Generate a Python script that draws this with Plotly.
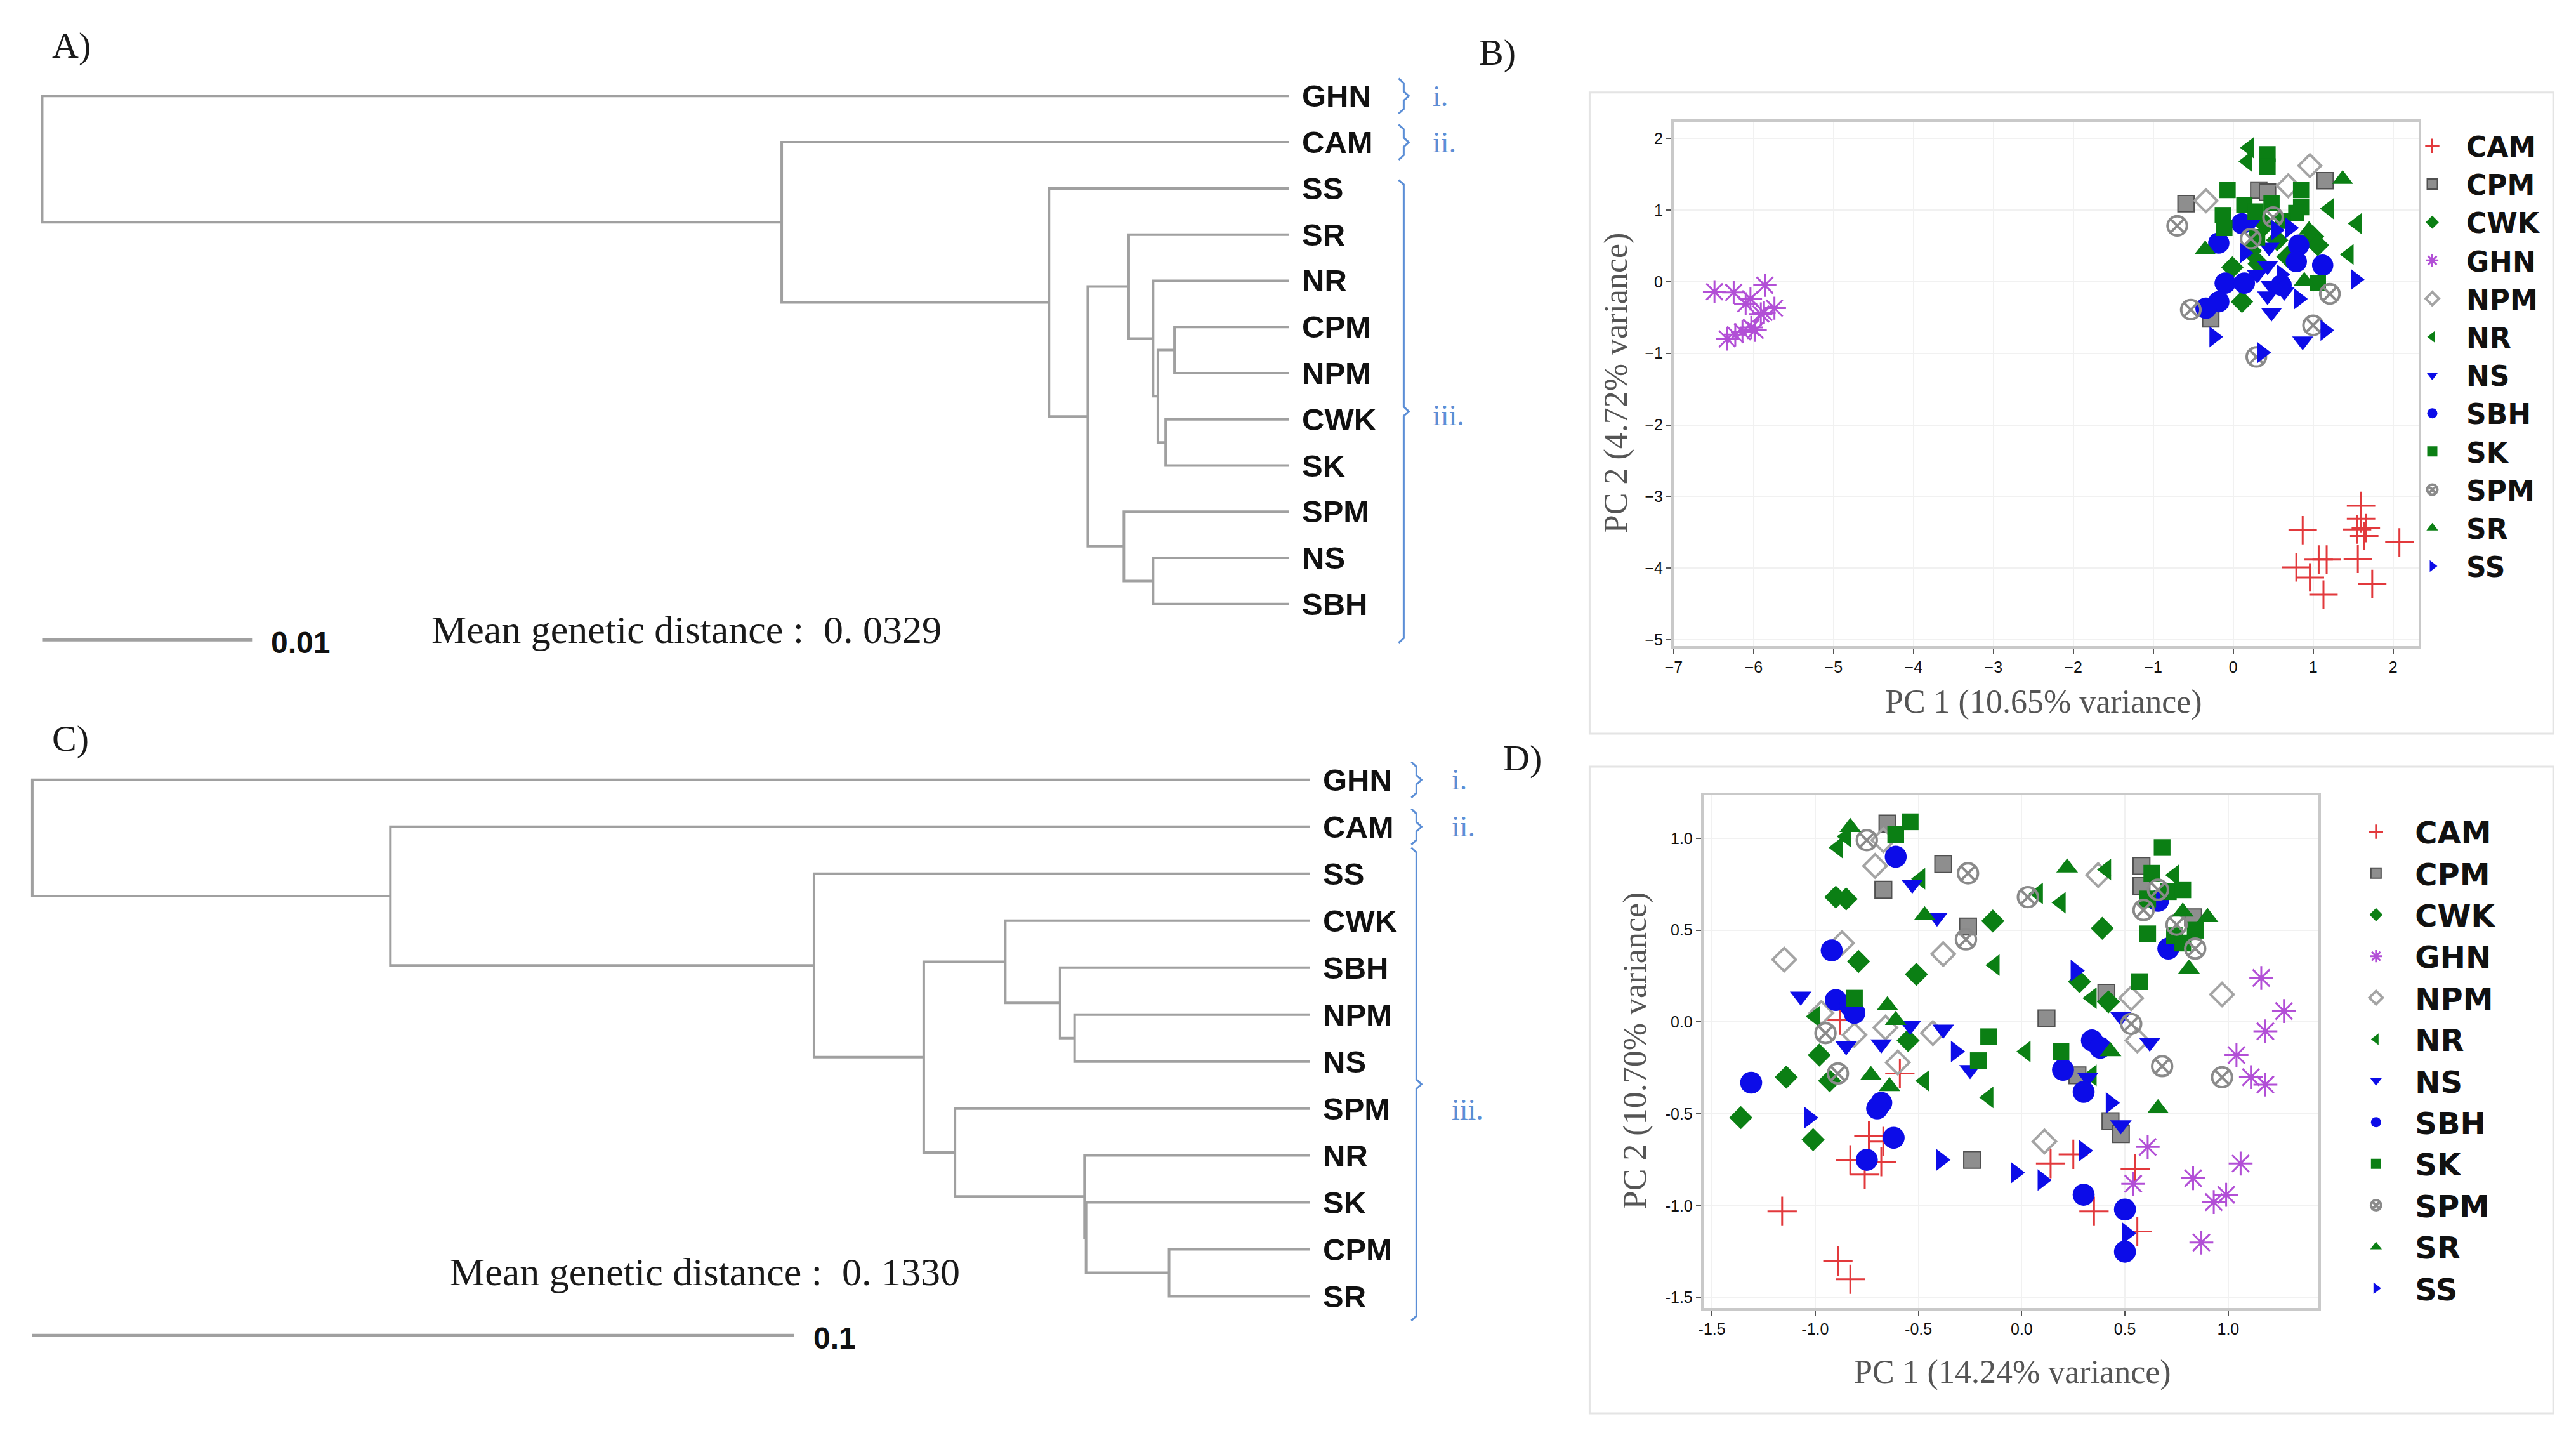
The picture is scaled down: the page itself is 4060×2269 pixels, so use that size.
import plotly.graph_objects as go

W, H = 4060, 2269
OFFX, OFFY = 20, 8   # observed page offset of the plot div (pixels)

# ---------------- Dendrogram A (UPGMA, distances from root) ----------------
A_leaves = ["GHN", "CAM", "SS", "SR", "NR", "CPM", "NPM", "CWK", "SK", "SPM", "NS", "SBH"]
A_tip = 0.0594
A_nodes = [  # (node, child 1, child 2, distance of node from root)
    ("a1", "CPM", "NPM", 0.05394),
    ("a2", "CWK", "SK", 0.05352),
    ("a3", "a1", "a2", 0.05315),
    ("a4", "NR", "a3", 0.05292),
    ("a5", "SR", "a4", 0.05176),
    ("a6", "NS", "SBH", 0.05292),
    ("a7", "SPM", "a6", 0.05153),
    ("a8", "a5", "a7", 0.04981),
    ("a9", "SS", "a8", 0.04796),
    ("a10", "CAM", "a9", 0.03523),
    ("a11", "GHN", "a10", 0.0),
]
A_scale = 0.01
A_mean = "Mean genetic distance :  0. 0329"

# ---------------- Dendrogram C ----------------
C_leaves = ["GHN", "CAM", "SS", "CWK", "SBH", "NPM", "NS", "SPM", "NR", "SK", "CPM", "SR"]
C_tip = 0.1677
C_nodes = [
    ("c1", "NPM", "NS", 0.1368),
    ("c2", "SBH", "c1", 0.1349),
    ("c3", "CWK", "c2", 0.1277),
    ("c4", "CPM", "SR", 0.1492),
    ("c5", "SK", "c4", 0.1383),
    ("c6", "NR", "c5", 0.1381),
    ("c7", "SPM", "c6", 0.1211),
    ("c8", "c3", "c7", 0.1170),
    ("c9", "SS", "c8", 0.1026),
    ("c10", "CAM", "c9", 0.0470),
    ("c11", "GHN", "c10", 0.0),
]
C_scale = 0.1
C_mean = "Mean genetic distance :  0. 1330"

clusters = ["i.", "ii.", "iii."]

# ---------------- PCA B (PC1 10.65 %, PC2 4.72 %) ----------------
groups = ["CAM", "CPM", "CWK", "GHN", "NPM", "NR", "NS", "SBH", "SK", "SPM", "SR", "SS"]
B_CAM = [(0.87, -3.47), (1.07, -3.88), (1.17, -3.88), (0.79, -3.99), (0.96, -4.13), (1.13, -4.37),
         (1.60, -3.13), (1.60, -3.31), (1.66, -3.44), (1.55, -3.46), (1.64, -3.55), (2.08, -3.64),
         (1.56, -3.87), (1.74, -4.22)]
B_CPM = [(-0.59, 1.09), (0.32, 1.28), (0.43, 1.25), (1.15, 1.41), (-0.28, -0.52)]
B_CWK = [(-0.01, 0.20), (0.11, -0.28), (0.22, 0.43), (0.32, 0.25), (1.00, 0.63), (1.06, 0.51),
         (0.55, 0.58), (0.40, 0.80), (0.68, 0.35)]
B_GHN = [(-6.49, -0.14), (-6.25, -0.15), (-5.86, -0.05), (-6.04, -0.24), (-6.10, -0.31), (-5.74, -0.37),
         (-5.91, -0.45), (-6.03, -0.64), (-6.14, -0.70), (-6.33, -0.80), (-6.23, -0.74), (-5.98, -0.68),
         (-5.87, -0.43)]
B_NPM = [(0.96, 1.62), (0.69, 1.34), (-0.34, 1.13)]
B_NR = [(0.20, 1.87), (0.18, 1.68), (1.20, 1.02), (1.55, 0.81), (1.45, 0.38)]
B_NS = [(0.24, 0.84), (0.45, 0.48), (0.43, 0.22), (0.43, -0.20), (0.48, -0.43), (0.64, -0.14),
        (0.87, -0.83), (0.30, 0.10), (0.47, -0.05)]
B_SBH = [(-0.18, 0.54), (0.11, 0.81), (0.82, 0.51), (0.79, 0.28), (1.12, 0.23), (-0.10, -0.02),
         (0.14, -0.02), (-0.18, -0.28), (-0.34, -0.37), (0.60, -0.05)]
B_SK = [(0.43, 1.78), (0.43, 1.61), (-0.07, 1.28), (0.85, 1.28), (0.14, 1.07), (0.48, 1.10),
        (0.85, 1.04), (0.79, 0.96), (-0.13, 0.93), (-0.11, 0.75), (1.06, -0.02), (0.28, 0.98),
        (0.62, 0.85), (0.30, 0.62)]
B_SPM = [(-0.70, 0.78), (1.21, -0.17), (-0.53, -0.39), (1.00, -0.61), (0.29, -1.05), (0.22, 0.60),
         (0.50, 0.90)]
B_SR = [(1.37, 1.43), (-0.35, 0.45), (0.95, 0.72), (0.89, 0.01)]
B_SS = [(0.53, 0.72), (0.71, 0.75), (1.53, 0.03), (0.14, 0.40), (0.82, -0.24), (-0.24, -0.77),
        (1.15, -0.68), (0.36, -0.99), (0.60, 0.10)]
B_xticks = [-7, -6, -5, -4, -3, -2, -1, 0, 1, 2]
B_yticks = [-5, -4, -3, -2, -1, 0, 1, 2]
B_xtitle = "PC 1 (10.65% variance)"
B_ytitle = "PC 2 (4.72% variance)"

# ---------------- PCA D (PC1 14.24 %, PC2 10.70 %) ----------------
D_CAM = [(-0.88, 0.01), (-0.59, -0.28), (-0.74, -0.62), (-0.67, -0.65), (-0.83, -0.75), (-0.68, -0.76),
         (-0.76, -0.83), (-1.16, -1.03), (-0.89, -1.30), (-0.83, -1.40), (0.14, -0.77), (0.25, -0.72),
         (0.55, -0.80), (0.35, -1.03), (0.56, -1.14)]
D_CPM = [(-0.65, 1.08), (-0.38, 0.86), (-0.67, 0.72), (-0.26, 0.52), (0.58, 0.85), (0.58, 0.74),
         (0.83, 0.57), (0.41, 0.16), (0.12, 0.02), (0.27, -0.29), (0.43, -0.54), (0.48, -0.61),
         (-0.24, -0.75)]
D_CWK = [(-0.90, 0.68), (-0.85, 0.67), (-0.14, 0.55), (-0.79, 0.33), (-0.51, 0.26), (-0.55, -0.10),
         (-0.98, -0.18), (-1.14, -0.30), (-0.93, -0.32), (-1.36, -0.52), (-1.01, -0.64), (0.39, 0.51),
         (0.28, 0.22), (0.42, 0.11)]
D_GHN = [(1.16, 0.24), (1.27, 0.06), (1.18, -0.05), (1.04, -0.18), (1.11, -0.30), (1.18, -0.34),
         (0.61, -0.68), (0.54, -0.88), (0.83, -0.85), (1.06, -0.77), (0.93, -0.98), (0.99, -0.94),
         (0.87, -1.20)]
D_NPM = [(-0.67, 0.99), (-0.71, 0.85), (-0.38, 0.37), (-0.87, 0.43), (-1.15, 0.34), (-0.97, 0.05),
         (-0.66, -0.03), (-0.43, -0.06), (-0.81, -0.07), (-0.60, -0.22), (0.37, 0.80), (0.53, 0.13),
         (0.97, 0.15), (0.56, -0.10), (0.11, -0.65)]
D_NR = [(-0.85, 1.01), (-0.89, 0.95), (-0.49, 0.78), (-0.13, 0.31), (-1.00, 0.03), (-0.47, -0.32),
        (-0.16, -0.41), (0.41, 0.83), (0.74, 0.80), (0.08, 0.70), (0.19, 0.65), (0.34, 0.13),
        (0.02, -0.16), (0.34, -0.29)]
D_NS = [(-0.53, 0.75), (-0.41, 0.57), (-1.07, 0.14), (-0.54, -0.02), (-0.38, -0.04), (-0.85, -0.13),
        (-0.68, -0.12), (-0.25, -0.26), (0.48, 0.03), (0.62, -0.11), (0.32, -0.30), (0.48, -0.56)]
D_SBH = [(-0.61, 0.90), (-0.92, 0.39), (-0.90, 0.12), (-0.83, 0.09), (-0.81, 0.05), (-1.31, -0.33),
         (-0.68, -0.44), (-0.70, -0.47), (-0.62, -0.63), (-0.75, -0.75), (0.66, 0.66), (0.71, 0.40),
         (0.34, -0.10), (0.38, -0.14), (0.20, -0.26), (0.30, -0.38), (0.30, -0.94), (0.50, -1.02),
         (0.50, -1.25)]
D_SK = [(-0.61, 1.02), (-0.54, 1.09), (-0.81, 0.13), (-0.16, -0.08), (-0.21, -0.21), (0.68, 0.95),
        (0.63, 0.81), (0.71, 0.71), (0.78, 0.72), (0.61, 0.67), (0.84, 0.50), (0.61, 0.48),
        (0.74, 0.47), (0.78, 0.43), (0.57, 0.22), (0.19, -0.16)]
D_SPM = [(-0.75, 0.99), (-0.26, 0.81), (-0.27, 0.45), (-0.95, -0.06), (-0.89, -0.28), (0.66, 0.72),
         (0.59, 0.61), (0.03, 0.68), (0.75, 0.53), (0.84, 0.40), (0.53, -0.01), (0.68, -0.24),
         (0.97, -0.30)]
D_SR = [(-0.83, 1.06), (-0.47, 0.58), (-0.65, 0.09), (-0.61, 0.01), (-0.73, -0.29), (-0.64, -0.35),
        (0.22, 0.84), (0.78, 0.60), (0.90, 0.57), (0.81, 0.29), (0.43, -0.16), (0.66, -0.47)]
D_SS = [(-0.32, -0.16), (-1.03, -0.52), (-0.39, -0.75), (-0.03, -0.82), (0.26, 0.28), (0.43, -0.44),
        (0.30, -0.70), (0.10, -0.86), (0.51, -1.15)]
D_xticks = [-1.5, -1.0, -0.5, 0.0, 0.5, 1.0]
D_yticks = [-1.5, -1.0, -0.5, 0.0, 0.5, 1.0]
D_xtitle = "PC 1 (14.24% variance)"
D_ytitle = "PC 2 (10.70% variance)"

B_data = [B_CAM, B_CPM, B_CWK, B_GHN, B_NPM, B_NR, B_NS, B_SBH, B_SK, B_SPM, B_SR, B_SS]
D_data = [D_CAM, D_CPM, D_CWK, D_GHN, D_NPM, D_NR, D_NS, D_SBH, D_SK, D_SPM, D_SR, D_SS]

# ---------------- styles ----------------
RED, GREEN, PURPLE, BLUE = "#e2393c", "#0b7f14", "#b24fd6", "#0c0ce8"
style = {
    "CAM": dict(symbol="cross-thin", color=RED, line=dict(color=RED, width=3), k=1.0),
    "CPM": dict(symbol="square", color="#8e8e8e", line=dict(color="#505050", width=2), k=0.8),
    "CWK": dict(symbol="diamond", color=GREEN, line=dict(width=0), k=0.85),
    "GHN": dict(symbol="asterisk-open", color=PURPLE, line=dict(color=PURPLE, width=3), k=0.95),
    "NPM": dict(symbol="diamond-open", color="#a4a4a4", line=dict(color="#a4a4a4", width=4), k=0.85),
    "NR": dict(symbol="triangle-left", color=GREEN, line=dict(width=0), k=0.9),
    "NS": dict(symbol="triangle-down", color=BLUE, line=dict(width=0), k=0.9),
    "SBH": dict(symbol="circle", color=BLUE, line=dict(width=0), k=1.05),
    "SK": dict(symbol="square", color=GREEN, line=dict(width=0), k=0.8),
    "SPM": dict(symbol="circle-x-open", color="#8a8a8a", line=dict(color="#8a8a8a", width=4), k=0.95),
    "SR": dict(symbol="triangle-up", color=GREEN, line=dict(width=0), k=0.9),
    "SS": dict(symbol="triangle-right", color=BLUE, line=dict(width=0), k=0.9),
}

TREE_COL = "#a0a0a0"
BR_COL = "#5b8ed6"
SERIF = "Liberation Serif"
SANS = "Liberation Sans"
LEG_FONT = "DejaVu Sans"

fig = go.Figure()


def tree_paths(leaves, nodes, tip):
    ypos = {n: i for i, n in enumerate(leaves)}
    xpos = {n: tip for n in leaves}
    xs, ys = [], []
    for name, a, b, h in nodes:
        ypos[name] = (ypos[a] + ypos[b]) / 2
        xpos[name] = h
        xs += [xpos[a], h, h, xpos[b], None]
        ys += [ypos[a], ypos[a], ypos[b], ypos[b], None]
    return xs, ys


def brace(x, y0, y1, dx, dy):
    ym = (y0 + y1) / 2
    return ([x - dx, x, x, x + dx, x, x, x - dx],
            [y0, y0 + dy, ym - dy, ym, ym + dy, y1 - dy, y1])


annotations = []


def add_tree(leaves, nodes, tip, scale, mean_text, xa, ya, px_unit, scale_y, scale_lab_x,
             mean_x, mean_y, br_x, br_lab_x, iii_span, iii_lab_y):
    xs, ys = tree_paths(leaves, nodes, tip)
    fig.add_trace(go.Scatter(x=xs, y=ys, mode="lines", xaxis=xa, yaxis=ya, showlegend=False,
                             line=dict(color=TREE_COL, width=4), hoverinfo="skip"))
    for i, lab in enumerate(leaves):
        annotations.append(dict(x=tip, y=i, xref=xa, yref=ya, text=lab, showarrow=False,
                                xanchor="left", yanchor="middle", xshift=18,
                                font=dict(family=SANS, size=49, color="#111111", weight="bold")))
    # scale bar
    fig.add_trace(go.Scatter(x=[0, scale], y=[scale_y, scale_y], mode="lines", xaxis=xa, yaxis=ya,
                             showlegend=False, line=dict(color=TREE_COL, width=5), hoverinfo="skip"))
    annotations.append(dict(x=scale_lab_x, y=scale_y, xref=xa, yref=ya, text=str(scale), showarrow=False,
                            xanchor="center", yanchor="middle", yshift=-4,
                            font=dict(family=SANS, size=48, color="#111111", weight="bold")))
    annotations.append(dict(x=mean_x, y=mean_y, xref=xa, yref=ya, text=mean_text, showarrow=False,
                            xanchor="center", yanchor="middle",
                            font=dict(family=SERIF, size=62, color="#1a1a1a")))
    # cluster braces
    dx = 8.0 / px_unit
    spans = [(-0.38, 0.38), (0.62, 1.38), iii_span]
    lab_y = [0, 1, iii_lab_y]
    for (y0, y1), lab, ly in zip(spans, clusters, lab_y):
        bx, by = brace(br_x, y0, y1, dx, 0.1)
        fig.add_trace(go.Scatter(x=bx, y=by, mode="lines", xaxis=xa, yaxis=ya, showlegend=False,
                                 line=dict(color=BR_COL, width=3), hoverinfo="skip"))
        annotations.append(dict(x=br_lab_x, y=ly, xref=xa, yref=ya, text=lab, showarrow=False,
                                xanchor="left", yanchor="middle",
                                font=dict(family=SERIF, size=46, color=BR_COL)))


# Tree A: root at px 64.6, 332 px per 0.01 ; leaves at y = 151.6 + 72.9*i
add_tree(A_leaves, A_nodes, A_tip, A_scale, A_mean, "x", "y", 33200, 11.775, 0.0123,
         0.0307, 11.556, 0.06486, 0.06619, (1.816, 11.84), 6.92)
# Tree C: root at px 49, 1205 px per 0.1 ; leaves at y = 1231 + 74.1*i
add_tree(C_leaves, C_nodes, C_tip, C_scale, C_mean, "x3", "y3", 12050, 11.835, 0.1053,
         0.0883, 10.486, 0.18166, 0.18614, (1.444, 11.52), 7.03)

# PCA scatters
for g, pts in zip(groups, B_data):
    st = style[g]
    fig.add_trace(go.Scatter(
        x=[p[0] for p in pts], y=[p[1] for p in pts], mode="markers", name=g,
        xaxis="x2", yaxis="y2", legend="legend",
        marker=dict(symbol=st["symbol"], color=st["color"], size=32 * st["k"], line=st["line"])))
for g, pts in zip(groups, D_data):
    st = style[g]
    fig.add_trace(go.Scatter(
        x=[p[0] for p in pts], y=[p[1] for p in pts], mode="markers", name=g,
        xaxis="x4", yaxis="y4", legend="legend2",
        marker=dict(symbol=st["symbol"], color=st["color"], size=33 * st["k"], line=st["line"])))


def px(v):
    return (v - OFFX) / W


def py(v):
    return 1 - (v - OFFY) / H


hidden = dict(visible=False, showgrid=False, zeroline=False, fixedrange=True)
pca_axis = dict(showgrid=True, gridcolor="#f1f1f1", gridwidth=2, zeroline=False, showline=True,
                linecolor="#c9c9c9", linewidth=4, mirror=True, ticks="outside", ticklen=8,
                tickwidth=2, tickcolor="#555555", tickfont=dict(family=SANS, size=25, color="#111111"))

A_root_px, A_unit = 64.6 - OFFX, 33200
C_root_px, C_unit = 49 - OFFX, 12050
TREE_W = 0.58 * W

fig.update_layout(
    width=W, height=H, margin=dict(l=0, r=0, t=0, b=0),
    paper_bgcolor="white", plot_bgcolor="white",
    xaxis=dict(domain=[0, 0.58], range=[-A_root_px / A_unit, (TREE_W - A_root_px) / A_unit], **hidden),
    yaxis=dict(domain=[py(1100), 1.0], range=[(1100 - 151.6) / 72.9, -(151.6 - OFFY) / 72.9], **hidden),
    xaxis3=dict(domain=[0, 0.58], range=[-C_root_px / C_unit, (TREE_W - C_root_px) / C_unit],
                anchor="y3", **hidden),
    yaxis3=dict(domain=[0, py(1130)], range=[(H + OFFY - 1231) / 74.1, (1130 - 1231) / 74.1],
                anchor="x3", **hidden),
    xaxis2=dict(domain=[px(2645), px(3823)], range=[-7, 2.32], anchor="y2",
                tickvals=B_xticks, **pca_axis),
    yaxis2=dict(domain=[py(1020), py(192)], range=[-5.09, 2.235], anchor="x2",
                tickvals=B_yticks, **pca_axis),
    xaxis4=dict(domain=[px(2692), px(3665)], range=[-1.541, 1.438], anchor="y4",
                tickvals=D_xticks, ticktext=[f"{v:.1f}" for v in D_xticks], **pca_axis),
    yaxis4=dict(domain=[py(2065), py(1255)], range=[-1.5576, 1.2355], anchor="x4",
                tickvals=D_yticks, ticktext=[f"{v:.1f}" for v in D_yticks], **pca_axis),
    legend=dict(x=px(3791), y=py(195), xanchor="left", yanchor="top", bgcolor="rgba(0,0,0,0)",
                font=dict(family=LEG_FONT, size=44, color="#111111", weight="bold"),
                tracegroupgap=0, itemwidth=97),
    legend2=dict(x=px(3694), y=py(1275), xanchor="left", yanchor="top", bgcolor="rgba(0,0,0,0)",
                 font=dict(family=LEG_FONT, size=48, color="#111111", weight="bold"),
                 tracegroupgap=0, itemwidth=113),
    showlegend=True,
)

# panel frames
for y0, y1 in [(146, 1158), (1210, 2231)]:
    fig.add_shape(type="rect", xref="paper", yref="paper", x0=px(2512), x1=px(4036),
                  y0=py(y1), y1=py(y0), line=dict(color="#e4e4e4", width=3), layer="below")

# axis titles
titles = [(B_xtitle, 3230, 1108, 0), (B_ytitle, 2554, 604, -90),
          (D_xtitle, 3181, 2166, 0), (D_ytitle, 2584, 1658, -90)]
for t, x, y, ang in titles:
    annotations.append(dict(x=px(x), y=py(y), xref="paper", yref="paper", text=t, showarrow=False,
                            textangle=ang, xanchor="center", yanchor="middle",
                            font=dict(family=SERIF, size=52, color="#555555")))

# panel letters (left edges)
for t, x, y in [("A)", 78, 72), ("B)", 2335, 83), ("C)", 78, 1166), ("D)", 2373, 1197)]:
    annotations.append(dict(x=px(x), y=py(y), xref="paper", yref="paper", text=t, showarrow=False,
                            xanchor="left", yanchor="middle",
                            font=dict(family=SERIF, size=58, color="#1a1a1a")))

fig.update_layout(annotations=annotations)
fig.write_html("out.html")
